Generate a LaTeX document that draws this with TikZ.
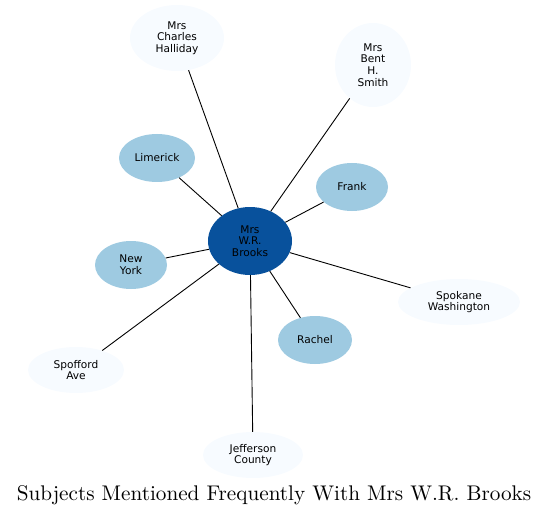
\documentclass[tikz,border=0pt]{standalone}
\usepackage{fontspec}
\setsansfont{DejaVu Sans}
\usetikzlibrary{shapes.geometric}
\definecolor{darkb}{HTML}{08519C}
\definecolor{midb}{HTML}{9ECAE1}
\definecolor{paleb}{HTML}{F7FBFF}
\begin{document}
\begin{tikzpicture}[x=1pt,y=-1pt,
  blob/.style={ellipse,inner sep=0pt,font=\sffamily\fontsize{10.6}{11.6}\selectfont,align=center,text=black},
  ctr/.style={blob,fill=darkb},
  mid/.style={blob,fill=midb},
  pale/.style={blob,fill=paleb},
  link/.style={draw=black,line width=0.9pt}]
\useasboundingbox (0,0) rectangle (549,516);
\node[ctr,minimum width=84,minimum height=68] (c) at (250,241) {Mrs\\W.R.\\Brooks};
\node[pale,minimum width=94,minimum height=66] (hal) at (177,38) {Mrs\\Charles\\Halliday};
\node[pale,minimum width=76,minimum height=84] (smi) at (373,65) {Mrs\\Bent\\H.\\Smith};
\node[mid,minimum width=76,minimum height=48] (lim) at (157,158) {Limerick};
\node[mid,minimum width=72,minimum height=48] (fra) at (352,187) {Frank};
\node[mid,minimum width=72,minimum height=48] (ny) at (131,265) {New\\York};
\node[pale,minimum width=122,minimum height=46] (spo) at (459,302) {Spokane\\Washington};
\node[mid,minimum width=74,minimum height=48] (rac) at (315,340) {Rachel};
\node[pale,minimum width=96,minimum height=46] (sav) at (76,370) {Spofford\\Ave};
\node[pale,minimum width=100,minimum height=46] (jef) at (253,455) {Jefferson\\County};
\foreach \n in {hal,smi,lim,fra,ny,spo,rac,sav,jef} \draw[link] (c) -- (\n);
\node[font=\fontsize{10}{12}\selectfont,inner sep=0pt] (title) at (274,495) {\scalebox{2.12}{Subjects Mentioned Frequently With Mrs W.R. Brooks}};
\end{tikzpicture}
\end{document}
